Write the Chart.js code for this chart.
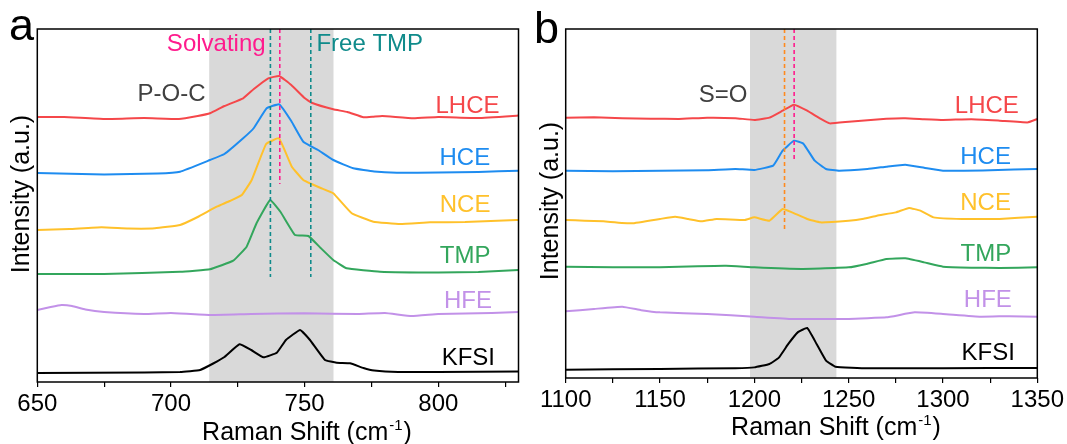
<!DOCTYPE html>
<html>
<head>
<meta charset="utf-8">
<script src="https://cdn.jsdelivr.net/npm/chart.js@4"></script>
<style>
  html, body { margin: 0; padding: 0; background: #fff; }
  #wrapA { position: absolute; left: 0; top: 0; width: 533px; height: 444px; }
  #wrapB { position: absolute; left: 533px; top: 0; width: 534px; height: 444px; }
</style>
</head>
<body>
<div id="wrapA"><canvas id="chartA"></canvas></div>
<div id="wrapB"><canvas id="chartB"></canvas></div>
<script>
// series names, top to bottom
const seriesNames = ['LHCE', 'HCE', 'NCE', 'TMP', 'HFE', 'KFSI'];

// panel a: P-O-C region, [Raman shift, stacked intensity]
const pocLHCE = [[650,261],[660,261],[675,259],[690,260],[703,259],[710,262],[714.6,264.7],[720,272],[727,279.7],[731,289],[736.4,299.7],[740.5,302],[745,293],[750.1,279.7],[752.6,275.3],[760.7,268.7],[766,266],[772,260.7],[775.7,261.3],[779,262],[790.7,259.7],[800,261],[815,260],[829.3,262.3],[830,262.5]];
const pocHCE = [[650,205],[675,203.5],[695,204.5],[703.4,206.3],[714.6,218],[720,224],[727,239.7],[731,250],[735.8,269.7],[740.5,273.7],[745,257],[749.5,236.3],[755,228],[760.7,218],[768.2,209.7],[776,206.5],[784.5,205.3],[800,205.5],[815,206],[830,207.3]];
const pocNCE = [[650,148],[662,149],[674,150.7],[684,149.5],[694,149.7],[703.4,153],[710,161],[717.1,171.3],[722,177],[726.5,183],[730.2,198],[735.6,234],[740.4,239.7],[745.2,211.3],[749.5,198],[752.6,194],[756,190],[760.7,184.7],[767.6,164.7],[775.7,156.3],[785.7,154],[796.9,155.7],[810,156],[829.3,158],[830,158]];
const pocTMP = [[650,104],[675,104],[703.4,106.3],[714.6,108.7],[723.3,117.3],[728.3,131.3],[732,154.7],[737.1,178],[741,166],[746.4,143],[751.4,142],[756,130],[760.7,118],[765.7,109.7],[778.2,106.3],[800,105.5],[815,106],[830,108]];
const pocHFE = [[650,68],[655,71],[659,73],[663,72],[668,68.5],[675,66],[690,64],[700,65],[715,63],[730,64],[750,64.7],[770,64],[780,65],[790,62],[800,64],[820,65],[830,66]];
const pocKFSI = [[650,5],[690,5.5],[703.4,6],[710.9,8],[715.8,14.5],[720,21],[725.6,33.7],[730,28],[734.6,20.7],[739.6,25.3],[743,38],[748.3,48],[752,38],[757.6,18],[762,15.3],[767,14.7],[772,10],[776,7.5],[785,6],[800,6],[830,6.5]];

// panel b: S=O region
const soLHCE = [[1100,261],[1115,261.5],[1130,260.5],[1145,260],[1160,259.7],[1175,261],[1190,260.5],[1200,258.7],[1208,261],[1215,268],[1221,274],[1228,268],[1235,260],[1240,255.3],[1250,257],[1260,258.5],[1270,260],[1280,260.5],[1290,259.5],[1300,258.7],[1315,259.5],[1330,258],[1345,256.3],[1350,259.7]];
const soHCE = [[1100,208],[1125,207.5],[1150,208],[1175,208.5],[1190,209.7],[1200,208.7],[1210,213],[1215,228],[1221,238],[1226,235],[1232,218],[1238,209.7],[1245,208],[1260,209.7],[1270,212],[1280,214],[1290,211],[1300,208],[1325,208.5],[1350,209.7]];
const soNCE = [[1100,158.7],[1110,158],[1120,157.3],[1135,155.3],[1150,159.7],[1158,162],[1165,159.7],[1172,157.3],[1180,159.7],[1195,158.7],[1200,161.3],[1208,158],[1215,169.7],[1220,166.3],[1228,159.7],[1235,156.3],[1250,158],[1258,160],[1265,163],[1275,166.3],[1282,170.7],[1288,168],[1295,161.3],[1310,159.7],[1330,159.7],[1350,162]];
const soTMP = [[1100,112],[1125,111.5],[1150,111.3],[1170,112.5],[1185,113],[1200,111.3],[1225,109.7],[1250,111.3],[1260,115],[1270,119.7],[1280,120.3],[1290,116.3],[1300,112],[1315,111],[1330,110.7],[1350,111.3]];
const soHFE = [[1100,67.3],[1115,69.7],[1130,72],[1140,68.5],[1150,66.3],[1175,64.7],[1200,62],[1220,59.7],[1250,59.7],[1270,61.3],[1285,66.3],[1300,64.7],[1320,62],[1335,62.5],[1350,62]];
const soKFSI = [[1100,9],[1150,9.7],[1190,10.5],[1200,11.3],[1208,14.7],[1213,21],[1218,34.7],[1223,46.3],[1228,50.7],[1233,34.7],[1238,18],[1243,12],[1260,10.3],[1300,10.5],[1350,10.7]];

// x ticks
const ticksA = [650, 675, 700, 725, 750, 775, 800, 825];
const ticksB = [1100, 1125, 1150, 1175, 1200, 1225, 1250, 1275, 1300, 1325, 1350];

// shaded bands [from, to]
const bandA = [714.3, 760.8];
const bandB = [1197.7, 1243.5];

// dashed reference lines: position and lower end
const refPosA = [737.2, 752.3, 740.7];
const refEndA = [101, 101, 194];
const refPosB = [1216, 1221.1];
const refEndB = [148, 217];

const colors = ['#f5474a', '#1e8cf0', '#ffc12b', '#33a65c', '#c291e8', '#000000'];
const FONT = "'Liberation Sans', Arial, sans-serif";

function curveSets(list) {
  return list.map((pts, i) => ({
    label: seriesNames[i],
    data: pts.map(p => ({ x: p[0], y: p[1] })),
    borderColor: colors[i],
    borderWidth: 2,
    pointRadius: 0,
    tension: 0.1,
    fill: false,
    order: 2
  }));
}

function refSets(pos, ends, top, cols) {
  return pos.map((x, i) => ({
    label: 'ref' + i,
    data: [{ x: x, y: top }, { x: x, y: ends[i] }],
    borderColor: cols[i],
    borderWidth: 1.6,
    borderDash: [4, 3],
    pointRadius: 0,
    fill: false,
    order: 1
  }));
}

const decor = {
  id: 'decor',
  beforeDatasetsDraw(chart, args, o) {
    const { ctx, chartArea: a, scales: { x } } = chart;
    ctx.save();
    ctx.fillStyle = '#d9d9d9';
    const x0 = x.getPixelForValue(o.band[0]);
    const x1 = x.getPixelForValue(o.band[1]);
    ctx.fillRect(x0, a.top, x1 - x0, a.bottom - a.top);
    ctx.restore();
  },
  afterDraw(chart, args, o) {
    const { ctx, chartArea: a, scales: { x, y } } = chart;
    ctx.save();
    // frame
    ctx.strokeStyle = '#000';
    ctx.lineWidth = 1.5;
    ctx.strokeRect(a.left, a.top, a.right - a.left, a.bottom - a.top);

    // texts placed in data units
    ctx.textBaseline = 'middle';
    o.texts.forEach(t => {
      ctx.font = (t.size || 24) + 'px ' + FONT;
      ctx.fillStyle = t.color;
      ctx.textAlign = t.align;
      ctx.fillText(t.text, x.getPixelForValue(t.x), y.getPixelForValue(t.y));
    });

    // panel letter
    ctx.font = '45px ' + FONT;
    ctx.fillStyle = '#000';
    ctx.textAlign = 'left';
    ctx.textBaseline = 'alphabetic';
    ctx.fillText(o.letter, o.letterPos[0], o.letterPos[1]);

    // x title with superscript
    ctx.font = '25px ' + FONT;
    const p1 = 'Raman Shift (cm', p3 = ')';
    const w1 = ctx.measureText(p1).width, w3 = ctx.measureText(p3).width;
    ctx.font = '15px ' + FONT;
    const w2 = ctx.measureText('-1').width;
    let sx = o.xTitle[0] - (w1 + w2 + w3) / 2;
    const by = o.xTitle[1];
    ctx.font = '25px ' + FONT;
    ctx.fillText(p1, sx, by);
    ctx.font = '15px ' + FONT;
    ctx.fillText('-1', sx + w1 + 1, by - 10);
    ctx.font = '25px ' + FONT;
    ctx.fillText(p3, sx + w1 + w2 + 2, by);

    // y title
    ctx.translate(o.yTitle[0], o.yTitle[1]);
    ctx.rotate(-Math.PI / 2);
    ctx.textAlign = 'center';
    ctx.textBaseline = 'middle';
    ctx.fillText('Intensity (a.u.)', 0, 0);
    ctx.restore();
  }
};

function makeChart(id, cfg) {
  return new Chart(document.getElementById(id), {
    type: 'line',
    data: { datasets: refSets(cfg.refPos, cfg.refEnd, cfg.ymax, cfg.refColors).concat(curveSets(cfg.series)) },
    options: {
      responsive: true,
      maintainAspectRatio: false,
      animation: false,
      layout: { padding: cfg.padding },
      plugins: {
        legend: { display: false },
        tooltip: { enabled: false },
        decor: cfg.decor
      },
      scales: {
        x: {
          type: 'linear',
          min: cfg.xmin,
          max: cfg.xmax,
          afterBuildTicks: s => { s.ticks = cfg.ticks.map(v => ({ value: v })); },
          afterFit: s => { s.height = cfg.axisH; },
          grid: { drawOnChartArea: false, drawTicks: true, tickLength: 5, color: '#000', lineWidth: 1.2 },
          border: { display: false },
          ticks: {
            autoSkip: false,
            maxRotation: 0,
            padding: 3,
            color: '#000',
            font: { size: 24, family: FONT },
            callback: v => (v % 50 === 0 ? v : '')
          }
        },
        y: { display: false, min: cfg.ymin, max: cfg.ymax }
      }
    },
    plugins: [decor]
  });
}

makeChart('chartA', {
  series: [pocLHCE, pocHCE, pocNCE, pocTMP, pocHFE, pocKFSI],
  refPos: refPosA, refEnd: refEndA, refColors: ['#0f8b8b', '#0f8b8b', '#ff1b8d'],
  xmin: 650, xmax: 830, ymin: -4, ymax: 349, ticks: ticksA,
  padding: { left: 37.3, right: 14.5, top: 29, bottom: 0 },
  axisH: 62,
  decor: {
    band: bandA,
    letter: 'a', letterPos: [9, 40],
    xTitle: [306, 440],
    yTitle: [22, 194],
    texts: [
      { text: 'Solvating', x: 735.4, y: 334, align: 'right', color: '#ff1b8d' },
      { text: 'Free TMP', x: 754.4, y: 334, align: 'left', color: '#0f8b8b' },
      { text: 'P-O-C', x: 700.2, y: 284, align: 'center', color: '#404040' },
      { text: 'LHCE', x: 822.9, y: 271.5, align: 'right', color: colors[0] },
      { text: 'HCE', x: 819.4, y: 220, align: 'right', color: colors[1] },
      { text: 'NCE', x: 819.5, y: 173, align: 'right', color: colors[2] },
      { text: 'TMP', x: 819.5, y: 122, align: 'right', color: colors[3] },
      { text: 'HFE', x: 820.1, y: 77, align: 'right', color: colors[4] },
      { text: 'KFSI', x: 821.2, y: 19.5, align: 'right', color: colors[5] }
    ]
  }
});

makeChart('chartB', {
  series: [soLHCE, soHCE, soNCE, soTMP, soHFE, soKFSI],
  refPos: refPosB, refEnd: refEndB, refColors: ['#ff8a1e', '#ff1b8d'],
  xmin: 1100, xmax: 1350, ymin: 0.67, ymax: 349.67, ticks: ticksB,
  padding: { left: 32.7, right: 29.5, top: 29, bottom: 0 },
  axisH: 66,
  decor: {
    band: bandB,
    letter: 'b', letterPos: [1, 43],
    xTitle: [302, 435],
    yTitle: [18.4, 201],
    texts: [
      { text: 'S=O', x: 1183.4, y: 283.7, align: 'center', color: '#404040' },
      { text: 'LHCE', x: 1340.2, y: 272.7, align: 'right', color: colors[0] },
      { text: 'HCE', x: 1336, y: 221.7, align: 'right', color: colors[1] },
      { text: 'NCE', x: 1336, y: 175.7, align: 'right', color: colors[2] },
      { text: 'TMP', x: 1336.2, y: 124.7, align: 'right', color: colors[3] },
      { text: 'HFE', x: 1336.5, y: 78.2, align: 'right', color: colors[4] },
      { text: 'KFSI', x: 1338.1, y: 25.2, align: 'right', color: colors[5] }
    ]
  }
});
</script>
</body>
</html>
